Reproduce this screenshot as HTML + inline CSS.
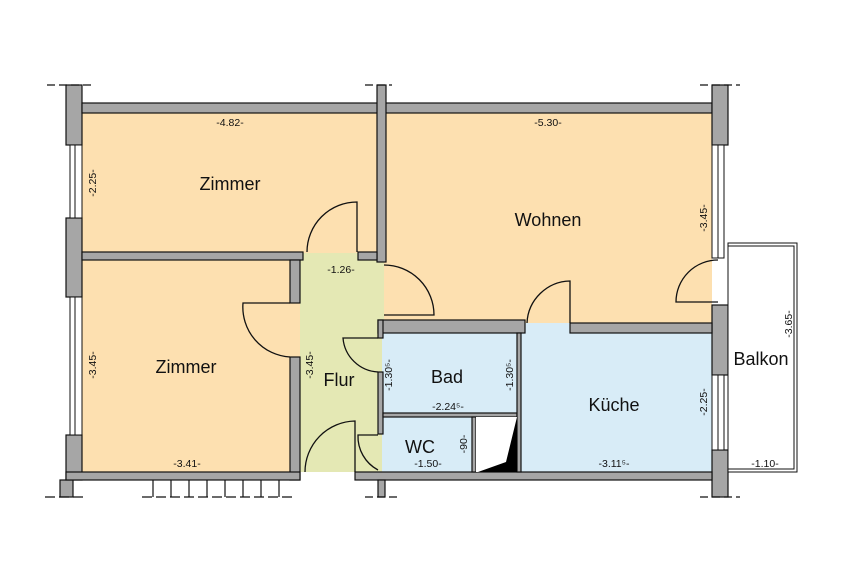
<!DOCTYPE html>
<html><head><meta charset="utf-8"><style>
html,body{margin:0;padding:0;background:#fff;}
svg{display:block;}
text{font-family:"Liberation Sans",sans-serif;fill:#111;}
.d{font-size:10.5px;}
.r{font-size:18px;}
</style></head><body>
<svg width="850" height="567" viewBox="0 0 850 567">
<!-- room fills -->
<rect x="82" y="113" width="295" height="140" fill="#fde0b0"/>
<rect x="386" y="113" width="326" height="211" fill="#fde0b0"/>
<rect x="82" y="260" width="218" height="212" fill="#fde0b0"/>
<rect x="300" y="260" width="84" height="212" fill="#e4e8b4"/>
<rect x="300" y="253" width="77" height="8" fill="#e4e8b4"/>
<rect x="384" y="262" width="40" height="62" fill="#fde0b0"/>
<rect x="382" y="333" width="135" height="80" fill="#d8ecf7"/>
<rect x="382" y="417" width="90" height="55" fill="#d8ecf7"/>
<rect x="520" y="323" width="192" height="149" fill="#d8ecf7"/>
<!-- walls -->
<g fill="#a6a6a6" stroke="#111" stroke-width="1.2">
<rect x="66" y="85" width="16" height="60"/>
<rect x="66" y="218" width="16" height="79"/>
<rect x="66" y="435" width="16" height="45"/>
<rect x="60" y="480" width="13" height="17"/>
<rect x="82" y="103" width="630" height="10"/>
<rect x="712" y="85" width="16" height="60"/>
<rect x="712" y="305" width="16" height="70"/>
<rect x="712" y="450" width="16" height="47"/>
<rect x="377" y="85" width="9" height="177"/>
<rect x="82" y="252" width="221" height="8"/>
<rect x="358" y="252" width="19" height="8"/>
<rect x="290" y="260" width="10" height="43"/>
<rect x="290" y="357" width="10" height="123"/>
<rect x="66" y="472" width="234" height="8"/>
<rect x="355" y="472" width="357" height="8"/>
<rect x="378" y="480" width="7" height="17"/>
<rect x="378" y="320" width="147" height="13"/>
<rect x="570" y="323" width="142" height="10"/>
<rect x="378" y="320" width="5" height="18"/>
<rect x="378" y="372" width="5" height="62"/>
<rect x="383" y="413" width="134" height="4"/>
<rect x="472" y="417" width="4" height="55"/>
<rect x="517" y="333" width="4" height="139"/>
</g>
<!-- windows -->
<g fill="#fff" stroke="#111" stroke-width="1">
<rect x="70" y="145" width="12" height="73"/><line x1="75" y1="145" x2="75" y2="218"/>
<rect x="70" y="297" width="12" height="138"/><line x1="75" y1="297" x2="75" y2="435"/>
<rect x="712" y="145" width="12" height="113"/><line x1="718" y1="145" x2="718" y2="258"/>
<rect x="712" y="375" width="12" height="75"/><line x1="718" y1="375" x2="718" y2="450"/>
</g>
<!-- storage -->
<rect x="476" y="417" width="41" height="55" fill="#fff"/>
<polygon points="517,417 517,472 478,472 506,462" fill="#000"/>
<!-- balcony -->
<rect x="728" y="243" width="69" height="229" fill="#fff" stroke="#111" stroke-width="1"/>
<rect x="728" y="246" width="66" height="223" fill="none" stroke="#111" stroke-width="1"/>
<!-- doors -->
<g fill="none" stroke="#111" stroke-width="1.3">
<path d="M357,252 L357,202 A50,50 0 0 0 307,252"/>
<path d="M384,265 A50,50 0 0 1 434,315 L384,315"/>
<path d="M290,303 L243,303 A50,50 0 0 0 290,357"/>
<path d="M378,338 L343,338 A37,37 0 0 0 378,372"/>
<path d="M355,472 L355,421 A51,51 0 0 0 305,472"/>
<path d="M378,435 L358,435 A38,38 0 0 0 378,470"/>
<path d="M570,323 L570,281 A44,44 0 0 0 527,323"/>
<path d="M718,260 A42,42 0 0 0 676,302 L718,302"/>
</g>
<!-- ext ticks -->
<g stroke="#111" stroke-width="1.2" fill="none">
<line x1="47" y1="85" x2="95" y2="85" stroke-dasharray="8,4"/>
<line x1="365" y1="85" x2="392" y2="85" stroke-dasharray="8,4"/>
<line x1="700" y1="85" x2="740" y2="85" stroke-dasharray="8,4"/>
<line x1="45" y1="497" x2="85" y2="497" stroke-dasharray="10,4"/>
<line x1="142" y1="497" x2="295" y2="497" stroke-dasharray="10,4"/>
<line x1="365" y1="497" x2="400" y2="497" stroke-dasharray="8,4"/>
<line x1="700" y1="497" x2="740" y2="497" stroke-dasharray="8,4"/>
<path d="M153,480V497M171,480V497M189,480V497M207,480V497M225,480V497M243,480V497M261,480V497M279,480V497"/>
</g>
<!-- room labels -->
<text class="r" x="230" y="190" text-anchor="middle">Zimmer</text>
<text class="r" x="548" y="226" text-anchor="middle">Wohnen</text>
<text class="r" x="186" y="373" text-anchor="middle">Zimmer</text>
<text class="r" x="339" y="386" text-anchor="middle">Flur</text>
<text class="r" x="447" y="383" text-anchor="middle">Bad</text>
<text class="r" x="614" y="411" text-anchor="middle">Küche</text>
<text class="r" x="420" y="453" text-anchor="middle">WC</text>
<text class="r" x="761" y="365" text-anchor="middle">Balkon</text>
<!-- dims -->
<text class="d" x="230" y="126" text-anchor="middle">-4.82-</text>
<text class="d" x="548" y="126" text-anchor="middle">-5.30-</text>
<text class="d" x="341" y="273" text-anchor="middle">-1.26-</text>
<text class="d" x="187" y="467" text-anchor="middle">-3.41-</text>
<text class="d" x="448" y="410" text-anchor="middle">-2.24⁵-</text>
<text class="d" x="428" y="467" text-anchor="middle">-1.50-</text>
<text class="d" x="614" y="467" text-anchor="middle">-3.11⁵-</text>
<text class="d" x="765" y="467" text-anchor="middle">-1.10-</text>
<text class="d" transform="translate(96,183) rotate(-90)" text-anchor="middle">-2.25-</text>
<text class="d" transform="translate(96,365) rotate(-90)" text-anchor="middle">-3.45-</text>
<text class="d" transform="translate(313,365) rotate(-90)" text-anchor="middle">-3.45-</text>
<text class="d" transform="translate(392,375) rotate(-90)" text-anchor="middle">-1.30⁵-</text>
<text class="d" transform="translate(513,375) rotate(-90)" text-anchor="middle">-1.30⁵-</text>
<text class="d" transform="translate(467,444) rotate(-90)" text-anchor="middle">-90-</text>
<text class="d" transform="translate(707,218) rotate(-90)" text-anchor="middle">-3.45-</text>
<text class="d" transform="translate(707,402) rotate(-90)" text-anchor="middle">-2.25-</text>
<text class="d" transform="translate(792,324) rotate(-90)" text-anchor="middle">-3.65-</text>
</svg>
</body></html>
